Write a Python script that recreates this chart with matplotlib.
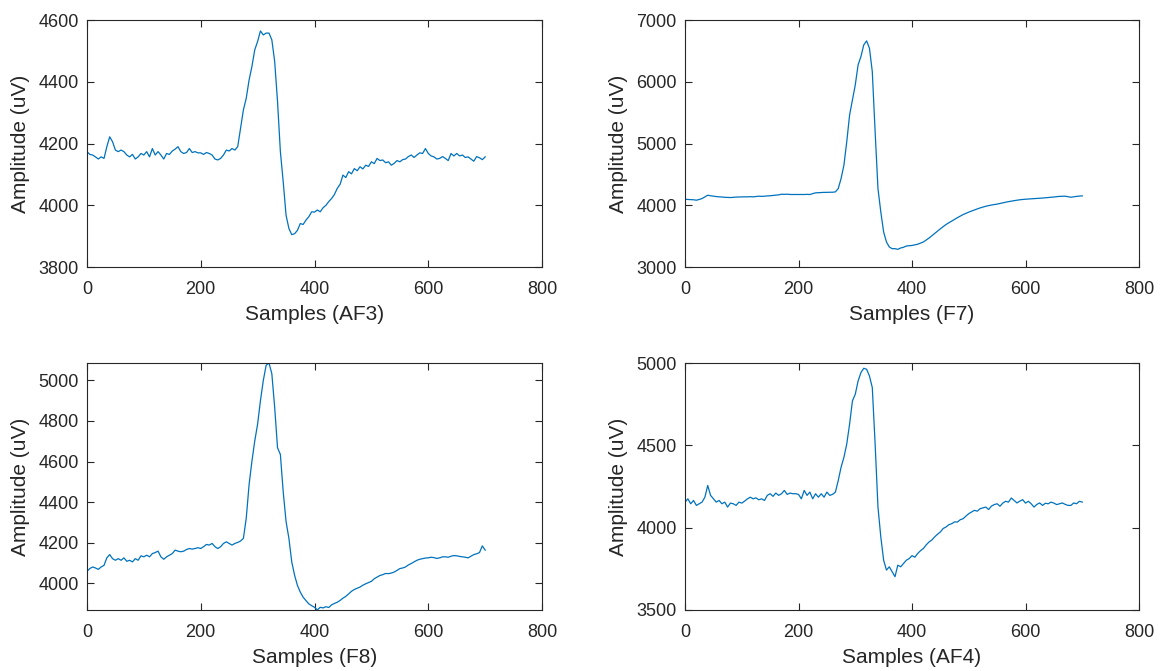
import numpy as np
import matplotlib
matplotlib.use("Agg")
import matplotlib.pyplot as plt

plt.rcParams['font.family'] = ['Liberation Sans', 'DejaVu Sans']

# sample index, every 5th sample
samples = list(range(0, 705, 5))

af3 = [4174, 4165, 4163, 4157, 4150, 4157, 4152, 4190, 4222, 4206,
       4179, 4174, 4179, 4174, 4163, 4157, 4165, 4150, 4157, 4168,
       4163, 4174, 4157, 4184, 4163, 4174, 4163, 4150, 4168, 4165,
       4176, 4182, 4190, 4174, 4168, 4171, 4184, 4171, 4174, 4170,
       4170, 4165, 4171, 4168, 4163, 4150, 4147, 4152, 4163, 4179,
       4176, 4184, 4179, 4190, 4249, 4309, 4347, 4406, 4450, 4504,
       4531, 4565, 4552, 4558, 4558, 4536, 4466, 4336, 4174, 4076,
       3968, 3925, 3905, 3908, 3919, 3941, 3938, 3952, 3963, 3979,
       3978, 3985, 3979, 3992, 4000, 4012, 4022, 4035, 4055, 4068,
       4098, 4090, 4109, 4102, 4119, 4112, 4125, 4118, 4130, 4126,
       4141, 4135, 4152, 4145, 4147, 4138, 4141, 4130, 4136, 4145,
       4141, 4148, 4150, 4158, 4163, 4155, 4163, 4170, 4168, 4184,
       4168, 4160, 4157, 4150, 4152, 4158, 4152, 4145, 4168, 4160,
       4168, 4160, 4163, 4155, 4157, 4150, 4143, 4158, 4154, 4148,
       4157]

f7 = [4099, 4095, 4093, 4090, 4083, 4095, 4110, 4137, 4164, 4155,
      4148, 4142, 4137, 4135, 4130, 4128, 4126, 4130, 4133, 4135,
      4137, 4138, 4137, 4140, 4137, 4142, 4148, 4145, 4148, 4150,
      4155, 4160, 4164, 4170, 4180, 4178, 4180, 4176, 4175, 4176,
      4175, 4176, 4175, 4178, 4175, 4190, 4202, 4205, 4208, 4210,
      4210, 4212, 4212, 4218, 4272, 4434, 4651, 5030, 5463, 5706,
      5950, 6275, 6410, 6599, 6664, 6545, 6166, 5192, 4272, 3893,
      3568, 3406, 3325, 3298, 3298, 3287, 3309, 3320, 3341, 3345,
      3350, 3360, 3370, 3388, 3406, 3438, 3470, 3508, 3545, 3582,
      3620, 3655, 3690, 3718, 3745, 3772, 3800, 3825, 3850, 3870,
      3890, 3908, 3925, 3942, 3958, 3972, 3985, 3995, 4005, 4012,
      4020, 4030, 4040, 4050, 4060, 4068, 4077, 4083, 4090, 4095,
      4099, 4102, 4105, 4108, 4110, 4114, 4118, 4122, 4126, 4130,
      4135, 4140, 4145, 4146, 4148, 4140, 4131, 4138, 4145, 4150,
      4153]

f8 = [4058, 4072, 4080, 4075, 4068, 4080, 4088, 4125, 4141, 4121,
      4113, 4121, 4113, 4125, 4108, 4113, 4105, 4121, 4113, 4135,
      4130, 4138, 4130, 4146, 4151, 4158, 4130, 4118, 4130, 4138,
      4146, 4163, 4158, 4155, 4158, 4166, 4171, 4168, 4171, 4175,
      4171, 4180, 4191, 4188, 4196, 4180, 4171, 4180, 4196, 4204,
      4196, 4188, 4196, 4201, 4208, 4221, 4320, 4486, 4602, 4702,
      4785, 4901, 5000, 5075, 5086, 5033, 4867, 4668, 4635, 4450,
      4304, 4221, 4105, 4039, 3989, 3956, 3931, 3914, 3898, 3889,
      3881, 3868, 3881, 3878, 3884, 3880, 3893, 3900, 3906, 3915,
      3926, 3935, 3947, 3960, 3969, 3975, 3981, 3990, 3997, 4003,
      4009, 4022, 4030, 4038, 4042, 4048, 4047, 4050, 4055, 4063,
      4072, 4075, 4080, 4090, 4097, 4105, 4113, 4118, 4121, 4124,
      4125, 4128, 4126, 4122, 4125, 4130, 4130, 4128, 4133, 4136,
      4135, 4132, 4130, 4128, 4125, 4133, 4141, 4145, 4151, 4184,
      4163]

af4 = [4155, 4175, 4145, 4165, 4135, 4145, 4155, 4185, 4256, 4196,
       4175, 4155, 4165, 4145, 4155, 4125, 4149, 4145, 4135, 4155,
       4149, 4161, 4175, 4185, 4175, 4181, 4169, 4175, 4165, 4196,
       4206, 4190, 4210, 4196, 4206, 4226, 4202, 4210, 4206, 4206,
       4202, 4175, 4226, 4196, 4216, 4175, 4206, 4185, 4206, 4185,
       4216, 4196, 4202, 4216, 4286, 4367, 4427, 4508, 4629, 4770,
       4810, 4891, 4942, 4968, 4962, 4921, 4851, 4508, 4125, 3944,
       3802, 3742, 3762, 3732, 3702, 3772, 3762, 3782, 3802, 3812,
       3830, 3820, 3843, 3860, 3873, 3895, 3913, 3925, 3944, 3960,
       3974, 3995, 4004, 4018, 4024, 4035, 4034, 4048, 4054, 4070,
       4085, 4095, 4105, 4100, 4115, 4120, 4125, 4110, 4131, 4140,
       4145, 4130, 4149, 4160, 4155, 4180, 4165, 4150, 4161, 4170,
       4149, 4160, 4145, 4125, 4141, 4150, 4135, 4148, 4145, 4155,
       4149, 4140, 4145, 4150, 4141, 4135, 4135, 4150, 4145, 4160,
       4155]

channels = ['AF3', 'F7', 'F8', 'AF4']
series = [af3, f7, f8, af4]
ylims = [(3800, 4600), (3000, 7000), (min(f8), max(f8)), (3500, 5000)]
yticks = [np.arange(3800, 4601, 200), np.arange(3000, 7001, 1000),
          np.arange(4000, 5001, 200), np.arange(3500, 5001, 500)]

# axes boxes in figure fractions [left, bottom, width, height]
boxes = [[0.0745, 0.602, 0.390, 0.368],
         [0.587, 0.602, 0.389, 0.368],
         [0.0745, 0.091, 0.390, 0.368],
         [0.587, 0.091, 0.389, 0.368]]

fig = plt.figure(figsize=(11.67, 6.71), dpi=100)
dark = '#262626'

for ch, y, yl, yt, box in zip(channels, series, ylims, yticks, boxes):
    ax = fig.add_axes(box)
    ax.plot(samples, y, color='#0072BD', lw=0.9)
    ax.set_xlim(0, 800)
    ax.set_ylim(*yl)
    ax.set_xticks([0, 200, 400, 600, 800])
    ax.set_yticks(yt)
    ax.tick_params(direction='in', top=True, right=True, length=5,
                   width=0.8, labelsize=13, colors=dark)
    ax.tick_params(axis='x', pad=10)
    ax.tick_params(axis='y', pad=6)
    for s in ax.spines.values():
        s.set_color(dark)
        s.set_linewidth(0.8)
    ax.set_xlabel('Samples (%s)' % ch, fontsize=15, color=dark, labelpad=5)
    ax.set_ylabel('Amplitude (uV)', fontsize=15, color=dark, labelpad=6)

fig.savefig('out.png', dpi=100)
